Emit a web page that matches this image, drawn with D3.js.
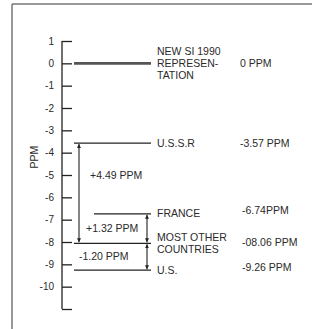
<!DOCTYPE html>
<html lang="en">
<head>
  <meta charset="UTF-8">
  <title>PPM</title>
  <style>
    body {
      margin: 0;
      background: #fff;
      overflow: hidden;
    }

    #canvas {
      width: 312px;
      height: 329px;
      font-family: "Liberation Sans", Arial, sans-serif;
      font-size: 10.5px;
      fill: #2a2a2a;
    }

    .tick-label {
      font-size: 10px;
    }
  </style>
</head>
<body>
<svg id="canvas"></svg>
<script src="https://cdn.jsdelivr.net/npm/d3@7"></script>
<script>
  let width = 312, height = 329;

  // tick labels (the bottom tick has none)
  let tickValues = [1, 0, -1, -2, -3, -4, -5, -6, -7, -8, -9, -10, -11];

  let names = [["NEW SI 1990", "REPRESEN-", "TATION"], ["U.S.S.R"], ["FRANCE"], ["MOST OTHER", "COUNTRIES"], ["U.S."]];
  let values = [0, -3.57, -6.74, -8.06, -9.26];
  let valueLabels = ["0 PPM", "-3.57 PPM", "-6.74PPM", "-08.06 PPM", "-9.26 PPM"];

  let diffFrom = [-3.57, -6.74, -8.06];
  let diffTo = [-8.06, -8.06, -9.26];
  let diffLabels = ["+4.49 PPM", "+1.32 PPM", "-1.20 PPM"];

  let svg = d3.select("#canvas");

  let y = d3.scaleLinear().domain([1, -11]).range([41, 309]);
  let axisX = 62;

  // frame: top rule and left rule only
  svg.append("line")
      .attr("x1", 12).attr("x2", width)
      .attr("y1", 4).attr("y2", 4)
      .attr("stroke", "#777").attr("stroke-width", 1.5);
  svg.append("line")
      .attr("x1", 12).attr("x2", 12)
      .attr("y1", 4).attr("y2", height)
      .attr("stroke", "#777").attr("stroke-width", 1.5);

  let axis = d3.axisRight(y)
      .tickValues(tickValues)
      .tickSize(10)
      .tickFormat(() => "");

  let g = svg.append("g")
      .attr("transform", `translate(${axisX},0)`)
      .call(axis);
  g.select(".domain").attr("stroke", "#222").attr("stroke-width", 1.3).attr("d", `M0,${y(1)}V${y(-11)}`);
  g.selectAll(".tick line").attr("stroke", "#222").attr("stroke-width", 1.3);

  svg.selectAll("text.tick-label")
      .data(tickValues.filter(d => d > -11))
      .join("text")
      .attr("class", "tick-label")
      .attr("x", axisX - 8)
      .attr("y", d => y(d))
      .attr("dy", "0.35em")
      .attr("text-anchor", "end")
      .text(d => d);

  svg.append("text")
      .attr("transform", `translate(38,${y(-4.2)}) rotate(-90)`)
      .attr("text-anchor", "middle")
      .text("PPM");

  // level lines
  svg.selectAll("line.level")
      .data(values)
      .join("line")
      .attr("class", "level")
      .attr("x1", (d, i) => i == 2 ? 94 : 74)
      .attr("x2", 151)
      .attr("y1", d => y(d))
      .attr("y2", d => y(d))
      .attr("stroke", (d, i) => i == 0 ? "#555" : "#222")
      .attr("stroke-width", (d, i) => i == 0 ? 2.6 : 1.2);

  // labels
  let nameOffsets = [[-12, 0, 12], [0], [-1], [-6, 6], [0]];
  let valueOffsets = [0, 0, -4, -1, -3];
  names.forEach((lines, i) => {
    lines.forEach((t, j) => {
      svg.append("text")
          .attr("x", 157)
          .attr("y", y(values[i]) + nameOffsets[i][j])
          .attr("dy", "0.35em")
          .text(t);
    });
    svg.append("text")
        .attr("x", i < 2 ? 240 : 242)
        .attr("y", y(values[i]) + valueOffsets[i])
        .attr("dy", "0.35em")
        .text(valueLabels[i]);
  });

  // double arrows
  let defs = svg.append("defs");
  defs.append("marker")
      .attr("id", "head")
      .attr("viewBox", "0 0 10 10")
      .attr("refX", 10).attr("refY", 5)
      .attr("markerWidth", 4).attr("markerHeight", 8)
      .attr("markerUnits", "userSpaceOnUse")
      .attr("orient", "auto-start-reverse")
      .append("path")
      .attr("d", "M0,0L10,5L0,10Z")
      .attr("fill", "#222");

  let arrowX = [79, 147, 147];
  svg.selectAll("line.diff")
      .data(diffFrom)
      .join("line")
      .attr("class", "diff")
      .attr("x1", (d, i) => arrowX[i])
      .attr("x2", (d, i) => arrowX[i])
      .attr("y1", d => y(d) + 1)
      .attr("y2", (d, i) => y(diffTo[i]) - 1)
      .attr("stroke", "#222")
      .attr("stroke-width", 1.1)
      .attr("marker-start", "url(#head)")
      .attr("marker-end", "url(#head)");

  let diffLabelX = [90, 86, 79];
  svg.selectAll("text.diff-label")
      .data(diffLabels)
      .join("text")
      .attr("class", "diff-label")
      .attr("x", (d, i) => diffLabelX[i])
      .attr("y", (d, i) => (y(diffFrom[i]) + y(diffTo[i])) / 2 + (i == 0 ? -18 : 0))
      .attr("dy", "0.35em")
      .text(d => d);
</script>
</body>
</html>
